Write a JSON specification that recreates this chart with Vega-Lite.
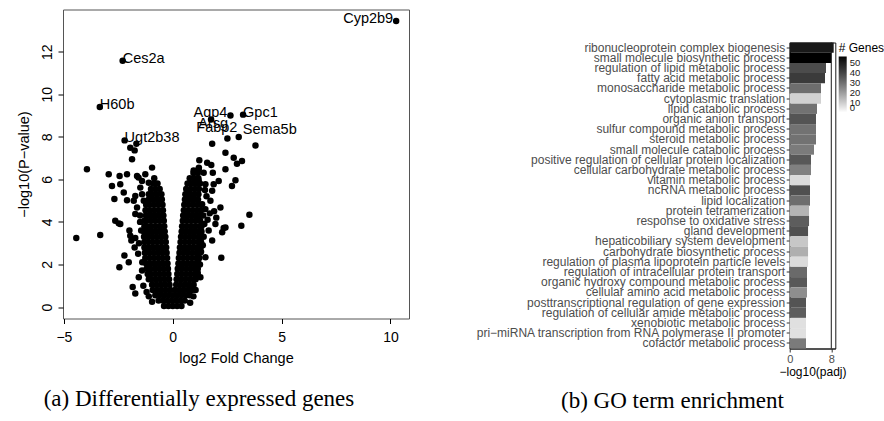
{
"$schema": "https://vega.github.io/schema/vega-lite/v6.json",
"background": "white",
"padding": {"left": 15, "top": 8.5, "right": 0, "bottom": 0},
"bounds": "flush",
"spacing": 380.7,
"config": {"font": "Liberation Sans", "axis": {"grid": false}},
"resolve": {"scale": {"fill": "independent"}, "legend": {"fill": "independent"}},
"datasets": {
"volcano": [
{"gene":"Cyp2b9","lfc":10.26,"lp":13.44},{"gene":"Ces2a","lfc":-2.30,"lp":11.57},{"gene":"H60b","lfc":-3.35,"lp":9.40},{"gene":"Ugt2b38","lfc":-2.21,"lp":7.83},{"gene":"Aqp4","lfc":2.65,"lp":9.00},{"gene":"Gpc1","lfc":3.23,"lp":9.04},{"gene":"Arsg","lfc":1.76,"lp":8.81},{"gene":"Fabp2","lfc":2.51,"lp":7.92},{"gene":"Sema5b","lfc":3.03,"lp":7.99},
{"lfc":1.81,"lp":7.67},{"lfc":3.80,"lp":7.59},{"lfc":2.42,"lp":7.25},{"lfc":2.80,"lp":7.01},{"lfc":2.95,"lp":6.73},{"lfc":3.18,"lp":6.86},{"lfc":2.42,"lp":6.47},{"lfc":2.72,"lp":5.69},{"lfc":2.88,"lp":5.96},{"lfc":1.22,"lp":6.90},{"lfc":1.58,"lp":6.78},{"lfc":1.77,"lp":6.67},{"lfc":0.96,"lp":6.42},{"lfc":1.19,"lp":6.47},{"lfc":1.42,"lp":6.31},{"lfc":1.84,"lp":6.31},{"lfc":1.04,"lp":5.84},{"lfc":1.19,"lp":5.92},{"lfc":1.50,"lp":5.77},{"lfc":1.88,"lp":5.77},{"lfc":2.11,"lp":5.92},{"lfc":0.70,"lp":5.46},{"lfc":0.81,"lp":5.22},{"lfc":0.66,"lp":5.07},{"lfc":3.52,"lp":4.33},{"lfc":3.15,"lp":3.82},{"lfc":2.23,"lp":2.31},{"lfc":2.19,"lp":4.68},{"lfc":1.96,"lp":3.90},{"lfc":2.34,"lp":3.71},{"lfc":2.42,"lp":3.74},{"lfc":2.27,"lp":3.51},{"lfc":1.50,"lp":2.34},{"lfc":1.27,"lp":1.40},{"lfc":0.89,"lp":0.94},{"lfc":1.81,"lp":3.12},{"lfc":1.65,"lp":3.59},{"lfc":1.35,"lp":4.83},{"lfc":1.73,"lp":4.99},{"lfc":1.81,"lp":5.46},{"lfc":1.40,"lp":4.30},{"lfc":1.45,"lp":3.90},{"lfc":1.50,"lp":4.60},{"lfc":1.55,"lp":5.20},{"lfc":1.38,"lp":2.90},{"lfc":1.30,"lp":2.60},{"lfc":1.42,"lp":3.30},{"lfc":1.60,"lp":4.10},{"lfc":1.25,"lp":2.00},{"lfc":1.15,"lp":1.60},{"lfc":1.70,"lp":4.40},{"lfc":1.48,"lp":5.50},{"lfc":2.00,"lp":4.20},{"lfc":1.90,"lp":4.50},
{"lfc":-3.94,"lp":6.47},{"lfc":-2.94,"lp":6.24},{"lfc":-2.79,"lp":5.69},{"lfc":-2.68,"lp":5.07},{"lfc":-2.44,"lp":6.16},{"lfc":-2.10,"lp":6.24},{"lfc":-1.64,"lp":6.16},{"lfc":-1.41,"lp":5.92},{"lfc":-1.10,"lp":5.84},{"lfc":-0.95,"lp":6.55},{"lfc":-2.41,"lp":5.77},{"lfc":-2.25,"lp":5.38},{"lfc":-2.10,"lp":5.02},{"lfc":-2.64,"lp":4.05},{"lfc":-2.48,"lp":3.93},{"lfc":-2.41,"lp":3.90},{"lfc":-4.43,"lp":3.24},{"lfc":-3.33,"lp":3.38},{"lfc":-1.99,"lp":3.59},{"lfc":-1.90,"lp":3.12},{"lfc":-1.75,"lp":2.80},{"lfc":-1.59,"lp":2.50},{"lfc":-1.95,"lp":3.35},{"lfc":-1.72,"lp":3.24},{"lfc":-2.22,"lp":2.42},{"lfc":-2.02,"lp":2.10},{"lfc":-2.45,"lp":1.87},{"lfc":-1.84,"lp":0.94},{"lfc":-1.72,"lp":0.63},{"lfc":-1.56,"lp":1.40},{"lfc":-1.41,"lp":1.72},{"lfc":-1.87,"lp":6.94},{"lfc":-1.95,"lp":7.48},{"lfc":-1.75,"lp":7.36},{"lfc":-1.67,"lp":7.67},{"lfc":-1.26,"lp":6.24},{"lfc":-1.49,"lp":5.61},{"lfc":-1.41,"lp":5.30},{"lfc":-1.33,"lp":4.99},{"lfc":-1.72,"lp":5.22},{"lfc":-1.79,"lp":4.99},{"lfc":-1.64,"lp":4.68},{"lfc":-1.72,"lp":4.37},{"lfc":-1.50,"lp":4.00},{"lfc":-1.45,"lp":3.60},{"lfc":-1.55,"lp":3.00},{"lfc":-1.40,"lp":2.10},{"lfc":-1.35,"lp":1.00},{"lfc":-1.20,"lp":0.70},{"lfc":-1.50,"lp":4.30},{"lfc":-1.57,"lp":6.08},{"lfc":-1.10,"lp":0.50},{"lfc":-0.95,"lp":0.25},{"lfc":0.80,"lp":0.20},{"lfc":0.95,"lp":0.50},{"lfc":1.05,"lp":0.80},
{"lfc":-0.4,"lp":0.05},{"lfc":-0.2,"lp":0.05},{"lfc":0,"lp":0.05},{"lfc":0.2,"lp":0.05},{"lfc":0.4,"lp":0.05},
{"lfc":-0.65,"lp":0.3},{"lfc":-0.45,"lp":0.3},{"lfc":-0.25,"lp":0.3},{"lfc":-0.05,"lp":0.3},{"lfc":0.15,"lp":0.3},{"lfc":0.35,"lp":0.3},{"lfc":0.55,"lp":0.3},
{"lfc":-0.8,"lp":0.55},{"lfc":-0.6,"lp":0.55},{"lfc":-0.4,"lp":0.55},{"lfc":-0.2,"lp":0.55},{"lfc":0,"lp":0.55},{"lfc":0.2,"lp":0.55},{"lfc":0.4,"lp":0.55},{"lfc":0.6,"lp":0.55},{"lfc":0.78,"lp":0.55},
{"lfc":-0.92,"lp":0.8},{"lfc":-0.72,"lp":0.8},{"lfc":-0.52,"lp":0.8},{"lfc":-0.32,"lp":0.8},{"lfc":-0.12,"lp":0.8},{"lfc":0.1,"lp":0.8},{"lfc":0.3,"lp":0.8},{"lfc":0.5,"lp":0.8},{"lfc":0.7,"lp":0.8},{"lfc":0.88,"lp":0.8},
{"lfc":-0.15,"lp":1.05},{"lfc":-0.35,"lp":1.05},{"lfc":-0.55,"lp":1.05},{"lfc":-0.75,"lp":1.05},{"lfc":-0.95,"lp":1.05},{"lfc":0.16,"lp":1.05},{"lfc":0.36,"lp":1.05},{"lfc":0.56,"lp":1.05},{"lfc":0.76,"lp":1.05},{"lfc":0.96,"lp":1.05},
{"lfc":-0.17,"lp":1.3},{"lfc":-0.37,"lp":1.3},{"lfc":-0.57,"lp":1.3},{"lfc":-0.77,"lp":1.3},{"lfc":-0.97,"lp":1.3},{"lfc":-1.1,"lp":1.3},{"lfc":0.18,"lp":1.3},{"lfc":0.38,"lp":1.3},{"lfc":0.58,"lp":1.3},{"lfc":0.78,"lp":1.3},{"lfc":0.98,"lp":1.3},{"lfc":1.05,"lp":1.3},
{"lfc":-0.2,"lp":1.55},{"lfc":-0.4,"lp":1.55},{"lfc":-0.6,"lp":1.55},{"lfc":-0.8,"lp":1.55},{"lfc":-1.0,"lp":1.55},{"lfc":-1.15,"lp":1.55},{"lfc":0.21,"lp":1.55},{"lfc":0.41,"lp":1.55},{"lfc":0.61,"lp":1.55},{"lfc":0.81,"lp":1.55},{"lfc":1.01,"lp":1.55},{"lfc":1.1,"lp":1.55},
{"lfc":-0.22,"lp":1.8},{"lfc":-0.42,"lp":1.8},{"lfc":-0.62,"lp":1.8},{"lfc":-0.82,"lp":1.8},{"lfc":-1.02,"lp":1.8},{"lfc":-1.2,"lp":1.8},{"lfc":0.23,"lp":1.8},{"lfc":0.43,"lp":1.8},{"lfc":0.63,"lp":1.8},{"lfc":0.83,"lp":1.8},{"lfc":1.03,"lp":1.8},{"lfc":1.15,"lp":1.8},
{"lfc":-0.24,"lp":2.05},{"lfc":-0.44,"lp":2.05},{"lfc":-0.64,"lp":2.05},{"lfc":-0.84,"lp":2.05},{"lfc":-1.04,"lp":2.05},{"lfc":-1.22,"lp":2.05},{"lfc":0.26,"lp":2.05},{"lfc":0.46,"lp":2.05},{"lfc":0.66,"lp":2.05},{"lfc":0.86,"lp":2.05},{"lfc":1.06,"lp":2.05},{"lfc":1.18,"lp":2.05},
{"lfc":-0.26,"lp":2.3},{"lfc":-0.46,"lp":2.3},{"lfc":-0.66,"lp":2.3},{"lfc":-0.86,"lp":2.3},{"lfc":-1.06,"lp":2.3},{"lfc":-1.26,"lp":2.3},{"lfc":0.28,"lp":2.3},{"lfc":0.48,"lp":2.3},{"lfc":0.68,"lp":2.3},{"lfc":0.88,"lp":2.3},{"lfc":1.08,"lp":2.3},{"lfc":1.22,"lp":2.3},
{"lfc":-0.28,"lp":2.55},{"lfc":-0.48,"lp":2.55},{"lfc":-0.68,"lp":2.55},{"lfc":-0.88,"lp":2.55},{"lfc":-1.08,"lp":2.55},{"lfc":-1.28,"lp":2.55},{"lfc":0.31,"lp":2.55},{"lfc":0.51,"lp":2.55},{"lfc":0.71,"lp":2.55},{"lfc":0.91,"lp":2.55},{"lfc":1.11,"lp":2.55},{"lfc":1.25,"lp":2.55},
{"lfc":-0.3,"lp":2.8},{"lfc":-0.5,"lp":2.8},{"lfc":-0.7,"lp":2.8},{"lfc":-0.9,"lp":2.8},{"lfc":-1.1,"lp":2.8},{"lfc":-1.3,"lp":2.8},{"lfc":0.33,"lp":2.8},{"lfc":0.53,"lp":2.8},{"lfc":0.73,"lp":2.8},{"lfc":0.93,"lp":2.8},{"lfc":1.13,"lp":2.8},{"lfc":1.28,"lp":2.8},
{"lfc":-0.32,"lp":3.05},{"lfc":-0.52,"lp":3.05},{"lfc":-0.72,"lp":3.05},{"lfc":-0.92,"lp":3.05},{"lfc":-1.12,"lp":3.05},{"lfc":-1.3,"lp":3.05},{"lfc":0.36,"lp":3.05},{"lfc":0.56,"lp":3.05},{"lfc":0.76,"lp":3.05},{"lfc":0.96,"lp":3.05},{"lfc":1.16,"lp":3.05},{"lfc":1.3,"lp":3.05},
{"lfc":-0.34,"lp":3.3},{"lfc":-0.54,"lp":3.3},{"lfc":-0.74,"lp":3.3},{"lfc":-0.94,"lp":3.3},{"lfc":-1.14,"lp":3.3},{"lfc":-1.32,"lp":3.3},{"lfc":0.38,"lp":3.3},{"lfc":0.58,"lp":3.3},{"lfc":0.78,"lp":3.3},{"lfc":0.98,"lp":3.3},{"lfc":1.18,"lp":3.3},{"lfc":1.3,"lp":3.3},
{"lfc":-0.37,"lp":3.55},{"lfc":-0.57,"lp":3.55},{"lfc":-0.77,"lp":3.55},{"lfc":-0.97,"lp":3.55},{"lfc":-1.17,"lp":3.55},{"lfc":-1.32,"lp":3.55},{"lfc":0.41,"lp":3.55},{"lfc":0.61,"lp":3.55},{"lfc":0.81,"lp":3.55},{"lfc":1.01,"lp":3.55},{"lfc":1.21,"lp":3.55},{"lfc":1.32,"lp":3.55},
{"lfc":-0.39,"lp":3.8},{"lfc":-0.59,"lp":3.8},{"lfc":-0.79,"lp":3.8},{"lfc":-0.99,"lp":3.8},{"lfc":-1.19,"lp":3.8},{"lfc":-1.3,"lp":3.8},{"lfc":0.43,"lp":3.8},{"lfc":0.63,"lp":3.8},{"lfc":0.83,"lp":3.8},{"lfc":1.03,"lp":3.8},{"lfc":1.23,"lp":3.8},{"lfc":1.32,"lp":3.8},
{"lfc":-0.41,"lp":4.05},{"lfc":-0.61,"lp":4.05},{"lfc":-0.81,"lp":4.05},{"lfc":-1.01,"lp":4.05},{"lfc":-1.21,"lp":4.05},{"lfc":-1.3,"lp":4.05},{"lfc":0.46,"lp":4.05},{"lfc":0.66,"lp":4.05},{"lfc":0.86,"lp":4.05},{"lfc":1.06,"lp":4.05},{"lfc":1.26,"lp":4.05},
{"lfc":-0.43,"lp":4.3},{"lfc":-0.63,"lp":4.3},{"lfc":-0.83,"lp":4.3},{"lfc":-1.03,"lp":4.3},{"lfc":-1.23,"lp":4.3},{"lfc":0.48,"lp":4.3},{"lfc":0.68,"lp":4.3},{"lfc":0.88,"lp":4.3},{"lfc":1.08,"lp":4.3},{"lfc":1.28,"lp":4.3},
{"lfc":-0.45,"lp":4.55},{"lfc":-0.65,"lp":4.55},{"lfc":-0.85,"lp":4.55},{"lfc":-1.05,"lp":4.55},{"lfc":-1.25,"lp":4.55},{"lfc":0.51,"lp":4.55},{"lfc":0.71,"lp":4.55},{"lfc":0.91,"lp":4.55},{"lfc":1.11,"lp":4.55},{"lfc":1.3,"lp":4.55},
{"lfc":-0.47,"lp":4.8},{"lfc":-0.67,"lp":4.8},{"lfc":-0.87,"lp":4.8},{"lfc":-1.07,"lp":4.8},{"lfc":-1.22,"lp":4.8},{"lfc":0.53,"lp":4.8},{"lfc":0.73,"lp":4.8},{"lfc":0.93,"lp":4.8},{"lfc":1.13,"lp":4.8},{"lfc":1.3,"lp":4.8},
{"lfc":-0.5,"lp":5.05},{"lfc":-0.7,"lp":5.05},{"lfc":-0.9,"lp":5.05},{"lfc":-1.1,"lp":5.05},{"lfc":0.56,"lp":5.05},{"lfc":0.76,"lp":5.05},{"lfc":0.96,"lp":5.05},{"lfc":1.16,"lp":5.05},
{"lfc":-0.52,"lp":5.3},{"lfc":-0.72,"lp":5.3},{"lfc":-0.92,"lp":5.3},{"lfc":-1.1,"lp":5.3},{"lfc":0.58,"lp":5.3},{"lfc":0.78,"lp":5.3},{"lfc":0.98,"lp":5.3},{"lfc":1.18,"lp":5.3},
{"lfc":-0.6,"lp":5.55},{"lfc":-0.8,"lp":5.55},{"lfc":-1.0,"lp":5.55},{"lfc":0.62,"lp":5.55},{"lfc":0.82,"lp":5.55},{"lfc":1.02,"lp":5.55},{"lfc":1.2,"lp":5.55},
{"lfc":-0.7,"lp":5.8},{"lfc":-0.9,"lp":5.8},{"lfc":0.68,"lp":5.8},{"lfc":0.88,"lp":5.8},{"lfc":1.08,"lp":5.8},{"lfc":1.25,"lp":5.8},
{"lfc":-0.85,"lp":6.05},{"lfc":0.78,"lp":6.05},{"lfc":0.98,"lp":6.05},{"lfc":1.18,"lp":6.05},
{"lfc":0.95,"lp":6.3},{"lfc":1.15,"lp":6.3},{"lfc":1.2,"lp":6.55}
],
"go": [
{"term":"ribonucleoprotein complex biogenesis","score":8.46,"genes":51},
{"term":"small molecule biosynthetic process","score":8.0,"genes":56},
{"term":"regulation of lipid metabolic process","score":6.98,"genes":38},
{"term":"fatty acid metabolic process","score":6.79,"genes":42},
{"term":"monosaccharide metabolic process","score":6.02,"genes":30},
{"term":"cytoplasmic translation","score":6.02,"genes":9},
{"term":"lipid catabolic process","score":5.25,"genes":29},
{"term":"organic anion transport","score":5.06,"genes":36},
{"term":"sulfur compound metabolic process","score":5.06,"genes":29},
{"term":"steroid metabolic process","score":5.06,"genes":29},
{"term":"small molecule catabolic process","score":4.67,"genes":27},
{"term":"positive regulation of cellular protein localization","score":4.1,"genes":35},
{"term":"cellular carbohydrate metabolic process","score":4.1,"genes":26},
{"term":"vitamin metabolic process","score":3.91,"genes":7},
{"term":"ncRNA metabolic process","score":3.91,"genes":37},
{"term":"lipid localization","score":3.91,"genes":30},
{"term":"protein tetramerization","score":3.72,"genes":15},
{"term":"response to oxidative stress","score":3.72,"genes":34},
{"term":"gland development","score":3.53,"genes":37},
{"term":"hepaticobiliary system development","score":3.53,"genes":11},
{"term":"carbohydrate biosynthetic process","score":3.53,"genes":16},
{"term":"regulation of plasma lipoprotein particle levels","score":3.53,"genes":7},
{"term":"regulation of intracellular protein transport","score":3.33,"genes":31},
{"term":"organic hydroxy compound metabolic process","score":3.33,"genes":35},
{"term":"cellular amino acid metabolic process","score":3.33,"genes":23},
{"term":"posttranscriptional regulation of gene expression","score":3.14,"genes":36},
{"term":"regulation of cellular amide metabolic process","score":3.14,"genes":34},
{"term":"xenobiotic metabolic process","score":3.14,"genes":6},
{"term":"pri−miRNA transcription from RNA polymerase II promoter","score":3.14,"genes":6},
{"term":"cofactor metabolic process","score":3.14,"genes":27}
]
},
"hconcat": [
{
"width": 346, "height": 309,
"data": {"name": "volcano"},
"view": {"stroke": "#555", "strokeWidth": 1},
"title": {"text": "(a) Differentially expressed genes", "orient": "bottom", "anchor": "middle", "frame": "group", "dx": -37, "offset": 23, "font": "Liberation Serif", "fontSize": 23, "fontWeight": "normal", "color": "black"},
"encoding": {
"x": {"field": "lfc", "type": "quantitative", "scale": {"domain": [-5.04, 10.85], "nice": false, "zero": false},
 "axis": {"values": [-5, 0, 5, 10], "title": "log2 Fold Change", "domain": false, "tickSize": 5, "tickColor": "black", "labelFontSize": 14, "labelColor": "black", "labelPadding": 7, "labelFlush": false, "labelOverlap": false, "titleFontSize": 14.5, "titleFontWeight": "normal", "titleColor": "black", "titlePadding": 7}},
"y": {"field": "lp", "type": "quantitative", "scale": {"domain": [-0.54, 13.98], "nice": false, "zero": false},
 "axis": {"values": [0, 2, 4, 6, 8, 10, 12], "title": "−log10(P−value)", "domain": false, "tickSize": 5, "tickColor": "black", "labelAngle": -90, "labelAlign": "center", "labelBaseline": "alphabetic", "labelPadding": 7, "labelFontSize": 14, "labelColor": "black", "labelFlush": false, "labelOverlap": false, "titleFontSize": 14.5, "titleFontWeight": "normal", "titleColor": "black", "titlePadding": 9}}
},
"layer": [
{"mark": {"type": "circle", "size": 42, "color": "black", "opacity": 1}},
{"transform": [{"filter": {"field": "gene", "oneOf": ["Ces2a", "H60b", "Ugt2b38", "Gpc1"]}}],
 "mark": {"type": "text", "align": "left", "baseline": "alphabetic", "dy": 2, "fontSize": 14.5, "color": "black"},
 "encoding": {"text": {"field": "gene"}}},
{"transform": [{"filter": {"field": "gene", "oneOf": ["Cyp2b9", "Aqp4"]}}],
 "mark": {"type": "text", "align": "right", "baseline": "alphabetic", "dx": -3, "dy": 2, "fontSize": 14.5, "color": "black"},
 "encoding": {"text": {"field": "gene"}}},
{"transform": [{"filter": {"field": "gene", "equal": "Arsg"}}],
 "mark": {"type": "text", "align": "center", "baseline": "alphabetic", "dx": 2, "dy": 8, "fontSize": 14.5, "color": "black"},
 "encoding": {"text": {"field": "gene"}}},
{"transform": [{"filter": {"field": "gene", "equal": "Fabp2"}}],
 "mark": {"type": "text", "align": "right", "baseline": "alphabetic", "dx": 10, "dy": -6, "fontSize": 14.5, "color": "black"},
 "encoding": {"text": {"field": "gene"}}},
{"transform": [{"filter": {"field": "gene", "equal": "Sema5b"}}],
 "mark": {"type": "text", "align": "left", "baseline": "alphabetic", "dx": 4, "dy": -3, "fontSize": 14.5, "color": "black"},
 "encoding": {"text": {"field": "gene"}}}
]
},
{
"vconcat": [
{"width": 45.6, "height": 32.7, "data": {"values": []}, "mark": "point", "view": {"stroke": null}},
{
"width": 45.6, "height": {"step": 10.2},
"data": {"name": "go"},
"view": {"stroke": "#1a1a1a", "strokeWidth": 1},
"title": {"text": "(b) GO term enrichment", "orient": "bottom", "anchor": "middle", "frame": "group", "dx": -140, "offset": 13, "font": "Liberation Serif", "fontSize": 23, "fontWeight": "normal", "color": "black"},
"layer": [
{"mark": {"type": "bar"},
 "encoding": {
 "y": {"field": "term", "type": "nominal", "sort": null, "scale": {"paddingInner": 0, "paddingOuter": 0},
  "axis": {"title": null, "labelFontSize": 12, "labelColor": "#4d4d4d", "labelLimit": 0, "labelPadding": 1.5, "tickSize": 3.5, "tickColor": "#333", "domainColor": "#1a1a1a", "labelOverlap": false}},
 "x": {"field": "score", "type": "quantitative", "scale": {"domain": [0, 8.77], "nice": false, "zero": true},
  "axis": {"values": [0, 2, 4, 6, 8], "title": "−log10(padj)", "labelFontSize": 11, "labelColor": "#4d4d4d", "tickSize": 3.5, "tickColor": "#333", "labelPadding": 1, "labelFlush": false, "labelOverlap": false, "domainColor": "#1a1a1a", "titleFontSize": 12, "titleFontWeight": "normal", "titleColor": "black", "titlePadding": 2}},
 "fill": {"field": "genes", "type": "quantitative", "scale": {"domain": [0, 56], "range": ["#ffffff", "#000000"], "interpolate": "lab"},
  "legend": {"title": "# Genes", "orient": "right", "offset": 3, "padding": 0, "direction": "vertical", "gradientLength": 56, "gradientThickness": 8, "gradientStrokeWidth": 0, "titleFontSize": 12, "titleFontWeight": "normal", "titleColor": "black", "titlePadding": 2, "labelFontSize": 9.5, "labelColor": "#1a1a1a", "labelOffset": 3, "labelOverlap": false, "values": [0, 10, 20, 30, 40, 50]}}
 }},
{"data": {"values": [{"v": 8}]}, "mark": {"type": "rule", "color": "#1a1a1a", "strokeWidth": 1},
 "encoding": {"x": {"field": "v", "type": "quantitative"}}}
]
}
],
"spacing": 0,
"bounds": "flush",
"resolve": {"scale": {"fill": "independent"}, "legend": {"fill": "independent"}}
}
]
}
